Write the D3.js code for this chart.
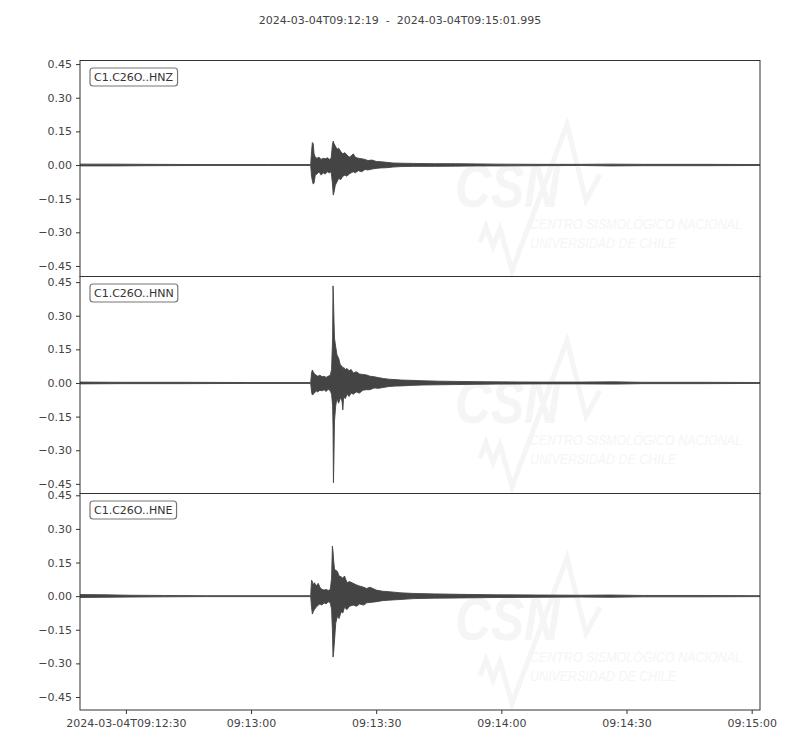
<!DOCTYPE html>
<html>
<head>
<meta charset="utf-8">
<script src="https://cdn.jsdelivr.net/npm/d3@7"></script>
<style>
  body { margin: 0; background: #fff; }
  svg { display: block; font-family: "DejaVu Sans", sans-serif; }
</style>
</head>
<body>
<svg id="chart" width="800" height="750"></svg>
<script>
// ---------------- DATA ----------------
const titleText = "2024-03-04T09:12:19  -  2024-03-04T09:15:01.995";
const startTime = "2024-03-04T09:12:19Z";
const endTime = "2024-03-04T09:15:01.995Z";
const channels = ["C1.C26O..HNZ", "C1.C26O..HNN", "C1.C26O..HNE"];
const yTicks = [0.45, 0.30, 0.15, 0.00, -0.15, -0.30, -0.45];
const xTickTimes = ["2024-03-04T09:12:30Z", "2024-03-04T09:13:00Z", "2024-03-04T09:13:30Z",
                    "2024-03-04T09:14:00Z", "2024-03-04T09:14:30Z", "2024-03-04T09:15:00Z"];
const xTickLabels = ["2024-03-04T09:12:30", "09:13:00", "09:13:30", "09:14:00", "09:14:30", "09:15:00"];

// Waveform envelopes: [seconds after start, max amplitude, min amplitude]
const hnzEnvelope = [
  [0, .004, -.004], [8, .004, -.004], [16, .003, -.003], [30, .002, -.002], [45, .002, -.002], [55.3, .002, -.002],
  [55.5, .06, -.05], [55.7, .10, -.07], [55.9, .095, -.085], [56.1, .05, -.08], [56.4, .035, -.045],
  [56.8, .03, -.04], [57.3, .035, -.03], [57.8, .025, -.045], [58.3, .03, -.035], [58.8, .028, -.04],
  [59.3, .032, -.03], [59.8, .025, -.035], [60.2, .03, -.03], [60.5, .09, -.08], [60.7, .107, -.134],
  [60.9, .095, -.12], [61.2, .085, -.09], [61.6, .07, -.075], [62.0, .075, -.06], [62.5, .06, -.065],
  [63.0, .05, -.05], [63.5, .055, -.045], [64.0, .045, -.05], [64.5, .035, -.04], [65.0, .04, -.035],
  [65.5, .05, -.03], [66.0, .035, -.035], [66.7, .03, -.025], [67.5, .028, -.03], [68.3, .025, -.02],
  [69.0, .02, -.022], [70, .022, -.018], [71, .016, -.015], [72, .015, -.013], [73.5, .012, -.012],
  [75, .009, -.009], [77, .008, -.007], [80, .007, -.006], [85, .006, -.006], [90, .006, -.005],
  [95, .005, -.004], [100, .004, -.004], [110, .003, -.003], [120, .003, -.002], [127, .004, -.004],
  [135, .003, -.003], [150, .003, -.003], [163, .002, -.002]
];
const hnnEnvelope = [
  [0, .004, -.004], [10, .003, -.003], [25, .003, -.003], [40, .002, -.002], [55.3, .002, -.002],
  [55.5, .045, -.04], [55.7, .058, -.054], [55.9, .05, -.05], [56.2, .04, -.045], [56.6, .035, -.035],
  [57.0, .03, -.04], [57.5, .035, -.032], [58.0, .028, -.035], [58.5, .03, -.03], [59.0, .025, -.038],
  [59.5, .03, -.028], [60.0, .035, -.035], [60.3, .06, -.05], [60.55, .2, -.1], [60.65, .433, -.2],
  [60.75, .38, -.445], [60.85, .3, -.35], [61.0, .2, -.17], [61.3, .16, -.1], [61.6, .125, -.07],
  [62.0, .11, -.09], [62.4, .08, -.065], [62.8, .075, -.08], [63.0, .06, -.12], [63.2, .07, -.06],
  [63.6, .06, -.07], [64.0, .065, -.05], [64.5, .055, -.06], [65.0, .06, -.045], [65.5, .045, -.05],
  [66.2, .05, -.04], [67.0, .04, -.045], [67.8, .038, -.032], [68.7, .036, -.03], [69.5, .03, -.03],
  [70.5, .028, -.022], [71.5, .024, -.024], [72.7, .02, -.02], [74, .017, -.016], [75.5, .015, -.014],
  [77, .013, -.013], [79, .012, -.011], [82, .01, -.009], [86, .008, -.008], [90, .007, -.007],
  [95, .006, -.006], [100, .005, -.005], [110, .004, -.004], [120, .004, -.004], [128, .005, -.005],
  [135, .003, -.003], [150, .003, -.003], [163, .002, -.002]
];
const hneEnvelope = [
  [0, .007, -.006], [6, .006, -.005], [12, .004, -.004], [20, .003, -.003], [30, .002, -.002], [55.3, .002, -.002],
  [55.5, .071, -.05], [55.7, .065, -.08], [55.9, .05, -.07], [56.2, .06, -.06], [56.6, .045, -.05],
  [57.1, .057, -.04], [57.5, .04, -.035], [58.0, .03, -.04], [58.5, .027, -.03], [59.0, .03, -.035],
  [59.5, .025, -.025], [60.0, .03, -.03], [60.3, .08, -.06], [60.5, .223, -.15], [60.65, .2, -.272],
  [60.8, .16, -.25], [61.0, .12, -.2], [61.3, .116, -.12], [61.7, .11, -.09], [62.1, .09, -.1],
  [62.6, .086, -.07], [63.0, .08, -.075], [63.4, .09, -.05], [64.0, .06, -.06], [64.6, .065, -.045],
  [65.5, .057, -.04], [66.3, .05, -.045], [67.0, .045, -.035], [68.0, .04, -.04], [68.7, .034, -.03],
  [69.5, .04, -.028], [71, .027, -.025], [72.5, .022, -.02], [74, .02, -.018], [76.7, .015, -.015],
  [80, .012, -.011], [85, .01, -.009], [91, .008, -.008], [100, .006, -.006], [110, .005, -.005],
  [120, .004, -.004], [127, .005, -.005], [135, .003, -.003], [150, .003, -.003], [163, .002, -.002]
];
const envelopes = [hnzEnvelope, hnnEnvelope, hneEnvelope];
const yDomains = [[-0.497, 0.466], [-0.493, 0.475], [-0.508, 0.458]];

// ---------------- LAYOUT ----------------
const svg = d3.select("#chart");
const left = 80, right = 760;
const panelTops = [60.5, 276.5, 493.5];
const panelBottoms = [276.5, 493.5, 710];
const traceColor = "#444444";
const axisColor = "#333333";
const textColor = "#444444";

const t0 = new Date(startTime);
const x = d3.scaleUtc().domain([t0, new Date(endTime)]).range([left, right]);
const tAt = s => new Date(t0.getTime() + s * 1000);

svg.append("text")
  .attr("x", 400).attr("y", 24)
  .attr("text-anchor", "middle")
  .attr("font-size", 11).attr("fill", textColor)
  .attr("xml:space", "preserve")
  .style("white-space", "pre")
  .text(titleText);

const fmt = v => (v < 0 ? "\u2212" : "") + Math.abs(v).toFixed(2);

channels.forEach((ch, i) => {
  const top = panelTops[i], bottom = panelBottoms[i];
  const y = d3.scaleLinear().domain(yDomains[i]).range([bottom, top]);
  const g = svg.append("g");

  const clipId = "clip" + i;
  svg.append("clipPath").attr("id", clipId)
    .append("rect").attr("x", left).attr("y", top).attr("width", right - left).attr("height", bottom - top);

  // faint watermark
  const wm = g.append("g").attr("transform", `translate(${left},${top})`);
  const wmColor = "#f5f5f5";
  wm.append("path")
    .attr("d", "M400,182 L406,166 L413,186 L420,168 L432,210 L487,64 L506,140 L520,114")
    .attr("fill", "none").attr("stroke", wmColor).attr("stroke-width", 5);
  wm.append("text").attr("x", 375).attr("y", 146)
    .attr("font-size", 62).attr("font-weight", "bold").attr("font-style", "italic")
    .attr("font-family", "Liberation Sans, Arial, sans-serif")
    .attr("textLength", 105).attr("lengthAdjust", "spacingAndGlyphs")
    .attr("fill", wmColor).text("CSN");
  wm.append("text").attr("x", 450).attr("y", 168)
    .attr("font-size", 15).attr("font-style", "italic")
    .attr("font-family", "Liberation Sans Narrow, Liberation Sans, sans-serif")
    .attr("textLength", 212).attr("lengthAdjust", "spacingAndGlyphs")
    .attr("fill", wmColor).text("CENTRO SISMOLÓGICO NACIONAL");
  wm.append("text").attr("x", 450).attr("y", 187)
    .attr("font-size", 15).attr("font-style", "italic")
    .attr("font-family", "Liberation Sans Narrow, Liberation Sans, sans-serif")
    .attr("textLength", 146).attr("lengthAdjust", "spacingAndGlyphs")
    .attr("fill", wmColor).text("UNIVERSIDAD DE CHILE");

  // trace
  const area = d3.area()
    .x(d => x(tAt(d[0])))
    .y0(d => y(d[2]))
    .y1(d => y(d[1]));
  g.append("path")
    .datum(envelopes[i])
    .attr("clip-path", `url(#${clipId})`)
    .attr("d", area)
    .attr("fill", traceColor)
    .attr("stroke", traceColor)
    .attr("stroke-width", 0.9)
    .attr("stroke-linejoin", "round");

  // frame
  g.append("rect").attr("x", left).attr("y", top)
    .attr("width", right - left).attr("height", bottom - top)
    .attr("fill", "none").attr("stroke", axisColor).attr("stroke-width", 1);

  // y axis
  const yAxis = d3.axisLeft(y).tickValues(yTicks).tickFormat(fmt).tickSize(4).tickPadding(4);
  const ya = g.append("g").attr("transform", `translate(${left},0)`).call(yAxis);
  ya.select(".domain").remove();
  ya.selectAll("line").attr("stroke", axisColor);
  ya.selectAll("text").attr("font-size", 11).attr("fill", textColor)
    .attr("font-family", "DejaVu Sans, sans-serif");

  // x axis only on last panel
  if (i === channels.length - 1) {
    const xAxis = d3.axisBottom(x)
      .tickValues(xTickTimes.map(s => new Date(s)))
      .tickFormat((d, k) => xTickLabels[k])
      .tickSize(4).tickPadding(5);
    const xa = g.append("g").attr("transform", `translate(0,${bottom})`).call(xAxis);
    xa.select(".domain").remove();
    xa.selectAll("line").attr("stroke", axisColor);
    xa.selectAll("text").attr("font-size", 11).attr("fill", textColor)
      .attr("font-family", "DejaVu Sans, sans-serif");
  }

  // channel label box
  const lbl = g.append("g");
  const txt = lbl.append("text").attr("x", 94).attr("y", top + 20)
    .attr("font-size", 11).attr("fill", "#333").text(ch);
  const bb = txt.node().getBBox();
  lbl.insert("rect", "text")
    .attr("x", bb.x - 4).attr("y", bb.y - 2.5)
    .attr("width", bb.width + 8).attr("height", bb.height + 5)
    .attr("rx", 3).attr("ry", 3)
    .attr("fill", "#fff").attr("stroke", "#777").attr("stroke-width", 1.2);
});
</script>
</body>
</html>
